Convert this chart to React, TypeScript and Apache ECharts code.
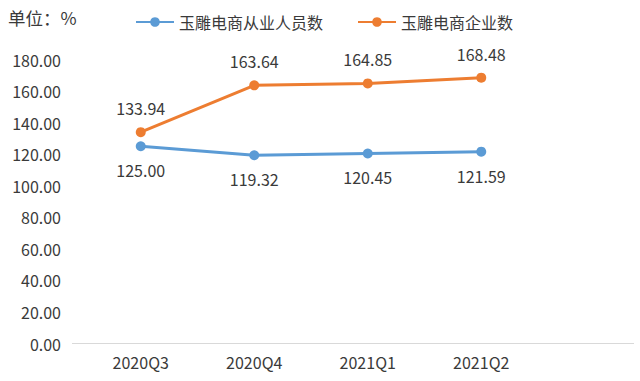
import React, { useEffect, useRef } from "react";
import * as echarts from "echarts";

const categories = ["2020Q3", "2020Q4", "2021Q1", "2021Q2"];
const staffSeries = [125.0, 119.32, 120.45, 121.59];
const companySeries = [133.94, 163.64, 164.85, 168.48];
const seriesNames = ["玉雕电商从业人员数", "玉雕电商企业数"];
const unitLabel = "单位：%";

const FONT = "'Noto Sans CJK SC', 'Noto Sans', sans-serif";
const TEXT = "#3a3a3a";

export default function App() {
  const ref = useRef<HTMLDivElement>(null);
  useEffect(() => {
    if (!ref.current) return;
    const chart = echarts.init(ref.current, null, { renderer: "svg" });
    chart.setOption({
      animation: false,
      backgroundColor: "#ffffff",
      textStyle: { fontFamily: FONT },
      graphic: [
        {
          type: "text",
          left: 8,
          top: 9,
          style: { text: unitLabel, fontSize: 17.5, fill: TEXT, fontFamily: FONT },
        },
        {
          type: "line",
          shape: { x1: 72, y1: 343.5, x2: 634, y2: 343.5 },
          style: { stroke: "#d9d9d9", lineWidth: 1 },
          z: 1,
        },
      ],
      legend: {
        left: 130,
        top: 9,
        itemWidth: 38,
        itemHeight: 12,
        itemGap: 34,
        textStyle: { fontSize: 16, color: TEXT, fontFamily: FONT },
        data: seriesNames,
      },
      grid: { left: 84, right: 102, top: 59.5, bottom: 37.5, containLabel: false },
      xAxis: {
        type: "category",
        data: categories,
        boundaryGap: true,
        axisLine: { show: false },
        axisTick: { show: false },
        axisLabel: { fontSize: 16, color: TEXT, margin: 10, fontFamily: FONT },
      },
      yAxis: {
        type: "value",
        min: 0,
        max: 180,
        interval: 20,
        splitLine: { show: false },
        axisLine: { show: false },
        axisTick: { show: false },
        axisLabel: {
          fontSize: 16,
          color: TEXT,
          margin: 23,
          fontFamily: FONT,
          formatter: (v: number) => v.toFixed(2),
        },
      },
      series: [
        {
          name: seriesNames[0],
          type: "line",
          data: staffSeries,
          symbol: "circle",
          symbolSize: 10,
          color: "#5B9BD5",
          lineStyle: { width: 3, color: "#5B9BD5" },
          itemStyle: { color: "#5B9BD5" },
          label: {
            show: true,
            position: "bottom",
            distance: 11,
            fontSize: 16,
            color: TEXT,
            fontFamily: FONT,
            formatter: (p: any) => Number(p.value).toFixed(2),
          },
        },
        {
          name: seriesNames[1],
          type: "line",
          data: companySeries,
          symbol: "circle",
          symbolSize: 10,
          color: "#ED7D31",
          lineStyle: { width: 3, color: "#ED7D31" },
          itemStyle: { color: "#ED7D31" },
          label: {
            show: true,
            position: "top",
            distance: 11,
            fontSize: 16,
            color: TEXT,
            fontFamily: FONT,
            formatter: (p: any) => Number(p.value).toFixed(2),
          },
        },
      ],
    });
    return () => chart.dispose();
  }, []);
  return <div ref={ref} style={{ width: 640, height: 381, position: "absolute", left: 0, top: 0 }} />;
}
